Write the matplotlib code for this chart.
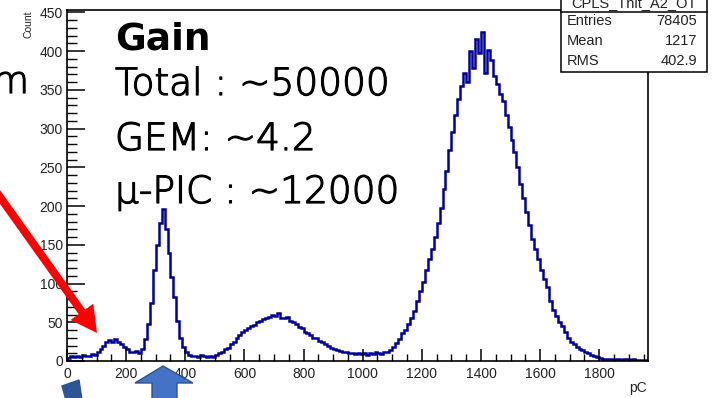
import numpy as np
import matplotlib
matplotlib.use("Agg")
import matplotlib.pyplot as plt
from matplotlib.patches import Polygon, FancyArrow, Rectangle
from matplotlib.ticker import MultipleLocator
import matplotlib.transforms as mtransforms
import matplotlib.patheffects as pe

# ---- data: 10 pC bins from 0 to 1960 pC ----
bin_width = 10
counts = [
    4, 6, 5, 7, 5, 8, 6, 7, 9, 8,                 # 0-90
    12, 15, 20, 24, 27, 25, 28, 24, 22, 18,       # 100-190
    15, 12, 11, 13, 10, 16, 28, 48, 75, 118,      # 200-290
    150, 178, 196, 170, 140, 108, 82, 52, 30, 18, # 300-390
    11, 8, 6, 7, 5, 8, 6, 5, 7, 5,                # 400-490
    8, 10, 12, 15, 17, 22, 25, 30, 33, 37,        # 500-590
    40, 42, 45, 47, 50, 52, 54, 55, 57, 60,       # 600-690
    58, 62, 56, 55, 57, 52, 50, 48, 44, 42,       # 700-790
    38, 36, 33, 30, 30, 26, 24, 22, 19, 17,       # 800-890
    15, 14, 13, 11, 11, 10, 10, 9, 10, 9,         # 900-990
    10, 8, 10, 9, 11, 10, 9, 12, 11, 14,          # 1000-1090
    18, 23, 28, 36, 40, 48, 55, 64, 78, 90,       # 1100-1190
    102, 118, 132, 145, 160, 178, 198, 222, 245, 272,  # 1200-1290
    296, 318, 338, 355, 372, 360, 400, 378, 415, 398,  # 1300-1390
    425, 372, 402, 388, 368, 358, 345, 335, 318, 302,  # 1400-1490
    285, 270, 250, 228, 210, 192, 175, 158, 145, 132,  # 1500-1590
    118, 106, 95, 78, 66, 58, 50, 45, 38, 30,     # 1600-1690
    25, 22, 18, 16, 14, 12, 10, 8, 7, 5,          # 1700-1790
    4, 3, 3, 2, 3, 2, 2, 1, 2, 2,                 # 1800-1890
    1, 2, 1, 1, 1, 1,                             # 1900-1950
]
edges = np.arange(len(counts) + 1) * bin_width

stat_names = ["Entries", "Mean", "RMS"]
stat_values = ["78405", "1217", "402.9"]
hist_name = "CPLS_Thit_A2_OT"

gain_title = "Gain"
gain_lines = ["Total : ~50000", "GEM: ~4.2", "\u03bc-PIC : ~12000"]

W, H = 712, 398
fig = plt.figure(figsize=(W / 100, H / 100), dpi=100)
# pixel transform (origin top-left)
px = mtransforms.Affine2D().scale(1 / 100, -1 / 100).translate(0, H / 100) + fig.dpi_scale_trans

ax_l, ax_r, ax_t, ax_b = 67, 648, 10, 361
ax = fig.add_axes([ax_l / W, 1 - ax_b / H, (ax_r - ax_l) / W, (ax_b - ax_t) / H])
ax.stairs(counts, edges, color="#00009a", lw=1.8)
ax.set_xlim(0, 1965)
ax.set_ylim(0, 453)

for s in ax.spines.values():
    s.set_linewidth(1.2)
    s.set_color("black")

ax.xaxis.set_major_locator(MultipleLocator(200))
ax.xaxis.set_minor_locator(MultipleLocator(50))
ax.yaxis.set_major_locator(MultipleLocator(50))
ax.yaxis.set_minor_locator(MultipleLocator(10))
ax.tick_params(axis="y", which="major", direction="in", length=13, width=1.1, pad=3,
               labelsize=10, labelcolor="#222222")
ax.tick_params(axis="y", which="minor", direction="in", length=7.5, width=1.0)
ax.tick_params(axis="x", which="major", direction="in", length=8.5, width=1.1, pad=4,
               labelsize=10, labelcolor="#222222")
ax.tick_params(axis="x", which="minor", direction="in", length=5, width=1.0)
for lab in ax.get_xticklabels() + ax.get_yticklabels():
    lab.set_family("Liberation Sans")

fig.text(647, 388, "pC", transform=px, ha="right", va="center",
         fontsize=10, family="Liberation Sans", color="#222222")
fig.text(28, 10, "Count", transform=px, rotation=90, ha="center", va="top",
         fontsize=7.5, family="Liberation Sans", color="#222222")

# ---- stats box ----
bx0, bx1, by0, by1 = 561, 707, -20, 72
fig.patches.append(Rectangle((bx0, by0), bx1 - bx0, by1 - by0, transform=px,
                             facecolor="white", edgecolor="black", lw=1.1))
fig.add_artist(plt.Line2D([bx0, bx1], [12, 12], transform=px, color="black", lw=1.1))
fig.text((bx0 + bx1) / 2, 3, hist_name, transform=px, ha="center", va="center",
         fontsize=10.5, family="Liberation Sans", color="#222222")
for i, (n, v) in enumerate(zip(stat_names, stat_values)):
    yy = 21 + i * 20
    fig.text(567, yy, n, transform=px, ha="left", va="center", fontsize=10.5,
             family="Liberation Sans", color="#222222")
    fig.text(697, yy, v, transform=px, ha="right", va="center", fontsize=10.5,
             family="Liberation Sans", color="#222222")

# ---- slide overlay text ----
tf = ["DejaVu Sans"]
thick = [pe.withStroke(linewidth=0.9, foreground="black")]
fig.text(115, 50, gain_title, transform=px, ha="left", va="baseline",
         fontsize=27, weight="bold", family=tf, color="black")
for yb, line in zip([95, 150, 203], gain_lines):
    fig.text(115, yb, line, transform=px, ha="left", va="baseline",
             fontsize=27, weight="light", family=tf, color="black",
             path_effects=thick)
fig.text(29, 93, "m", transform=px, ha="right", va="baseline",
         fontsize=27, weight="light", family=tf, color="black", path_effects=thick)

# ---- arrows ----
fig.patches.append(FancyArrow(-10, 183, 107, 150, width=8, head_width=28,
                              head_length=26, length_includes_head=True,
                              transform=px, color="#ff0000", lw=0))
fig.patches.append(Polygon([(135, 383), (163, 366), (193, 383), (177, 383),
                            (177, 400), (152, 400), (152, 383)], closed=True,
                           transform=px, facecolor="#4472c4", edgecolor="#2f528f", lw=1))
fig.patches.append(Polygon([(62, 386), (79, 380), (82, 400), (66, 400)], closed=True,
                           transform=px, facecolor="#2f5597", edgecolor="#2f528f", lw=1))

fig.savefig("out.png", dpi=100)
